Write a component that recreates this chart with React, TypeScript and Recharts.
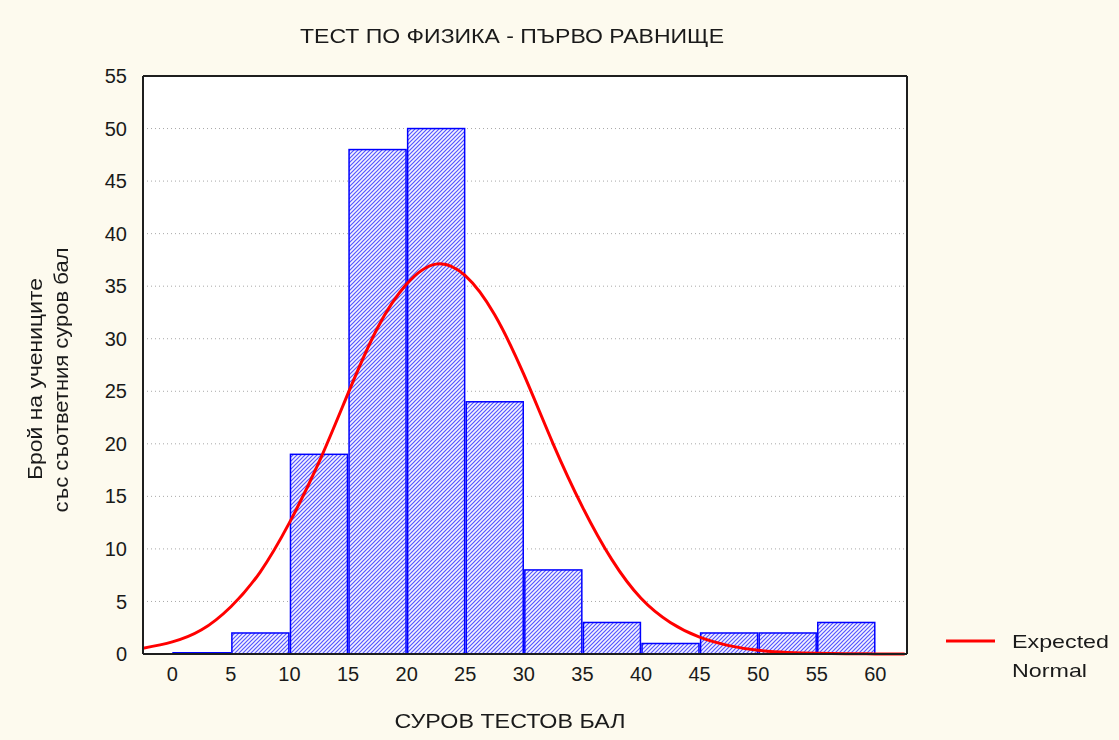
import {
    ComposedChart,
    Bar,
    Line,
    XAxis,
    YAxis,
    CartesianGrid,
    Legend,
} from 'recharts';

// histogram bins (centres of the 5-point score classes) and counts
const scoreBins = [2.5, 7.5, 12.5, 17.5, 22.5, 27.5, 32.5, 37.5, 42.5, 47.5, 52.5, 57.5];
const studentCounts = [0, 2, 19, 48, 50, 24, 8, 3, 1, 2, 2, 3];

// expected normal curve
const normalX = [-2.5, 0, 2.5, 5, 7.5, 10, 12.5, 15, 17.5, 20, 22.5, 25, 27.5, 30, 32.5, 35, 37.5, 40, 42.5, 45, 47.5, 50, 52.5, 55, 57.5, 60, 62.5];
const normalY = [0.55, 1.15, 2.3, 4.5, 7.8, 12.5, 18.2, 24.8, 31.0, 35.2, 37.1, 36.0, 32.3, 26.6, 20.0, 14.0, 9.0, 5.3, 3.0, 1.6, 0.8, 0.35, 0.15, 0.06, 0.02, 0.01, 0];

const xTicks = [0, 5, 10, 15, 20, 25, 30, 35, 40, 45, 50, 55, 60];
const yTicks = [0, 5, 10, 15, 20, 25, 30, 35, 40, 45, 50, 55];

const TITLE = 'ТЕСТ ПО ФИЗИКА - ПЪРВО РАВНИЩЕ';
const X_LABEL = 'СУРОВ ТЕСТОВ БАЛ';
const Y_LABEL_1 = 'Брой на учениците';
const Y_LABEL_2 = 'със съответния суров бал';

const FONT = '"Liberation Sans", Arial, sans-serif';
const TEXT = '#1a1a1a';
const BG = '#fdfaee';
const FRAME = '#1e1e1e';
const BAR_BLUE = '#0000ff';
const X_DOMAIN: [number, number] = [-2.5, 62.7];

const histData = scoreBins.map((score, i) => ({ score, count: studentCounts[i] }));
const curveData = normalX.map((score, i) => ({ score, expected: normalY[i] }));

function HatchBar(props: any) {
    const { x, y, width, height } = props;
    if (!height) {
        // empty class is drawn as a flat blue line on the axis
        return <rect x={x} y={y - 2} width={width} height={2} fill={BAR_BLUE} />;
    }
    return (
        <rect
            x={x + 1}
            y={y}
            width={width - 2}
            height={height}
            fill="url(#hatch)"
            stroke={BAR_BLUE}
            strokeWidth={1.5}
        />
    );
}

function LegendContent() {
    return (
        <svg width={180} height={60} style={{ overflow: 'visible' }}>
            <line x1={6} x2={55} y1={15} y2={15} stroke="#ff0000" strokeWidth={3} />
            <text x={72} y={22} fontSize={19} fontFamily={FONT} fill={TEXT} textLength={97} lengthAdjust="spacingAndGlyphs">
                Expected
            </text>
            <text x={72} y={51} fontSize={19} fontFamily={FONT} fill={TEXT} textLength={75} lengthAdjust="spacingAndGlyphs">
                Normal
            </text>
        </svg>
    );
}

export default function App() {
    return (
        <div style={{ position: 'fixed', left: 0, top: 0, width: 1119, height: 740, background: BG }}>
            <div style={{ position: 'absolute', left: 0, top: 0 }}>
                <ComposedChart
                    width={1119}
                    height={740}
                    data={histData}
                    margin={{ top: 76, right: 212, bottom: 85, left: 142 }}
                    barCategoryGap={0}
                    barGap={0}
                >
                    <defs>
                        <pattern id="hatch" patternUnits="userSpaceOnUse" width={4} height={4}>
                            <rect width={4} height={4} fill="#f4f4ff" />
                            <path
                                d="M-1,1 l2,-2 M0,4 l4,-4 M3,5 l2,-2"
                                stroke="#5555ff"
                                strokeWidth={1.2}
                            />
                        </pattern>
                    </defs>
                    <CartesianGrid
                        vertical={false}
                        stroke="#a8a8a8"
                        strokeDasharray="1 3"
                        fill="#ffffff"
                    />
                    <XAxis
                        dataKey="score"
                        type="number"
                        domain={X_DOMAIN}
                        ticks={xTicks}
                        allowDataOverflow
                        height={1}
                        tickLine={false}
                        tickSize={0}
                        tickMargin={13}
                        axisLine={{ stroke: FRAME, strokeWidth: 2 }}
                        tick={{ fill: TEXT, fontSize: 20, fontFamily: FONT }}
                    />
                    <XAxis
                        xAxisId="top"
                        dataKey="score"
                        type="number"
                        orientation="top"
                        mirror
                        domain={X_DOMAIN}
                        ticks={xTicks}
                        allowDataOverflow
                        height={1}
                        tick={false}
                        tickSize={5}
                        tickLine={{ stroke: FRAME, strokeWidth: 2 }}
                        axisLine={{ stroke: FRAME, strokeWidth: 2 }}
                    />
                    <XAxis
                        xAxisId="bottomIn"
                        dataKey="score"
                        type="number"
                        orientation="bottom"
                        mirror
                        domain={X_DOMAIN}
                        ticks={xTicks}
                        allowDataOverflow
                        height={1}
                        tick={false}
                        tickSize={5}
                        tickLine={{ stroke: FRAME, strokeWidth: 2 }}
                        axisLine={false}
                    />
                    <YAxis
                        type="number"
                        domain={[0, 55]}
                        ticks={yTicks}
                        width={1}
                        tickLine={false}
                        tickSize={0}
                        tickMargin={16}
                        axisLine={{ stroke: FRAME, strokeWidth: 2 }}
                        tick={{ fill: TEXT, fontSize: 20, fontFamily: FONT }}
                    />
                    <YAxis
                        yAxisId="leftIn"
                        type="number"
                        mirror
                        domain={[0, 55]}
                        ticks={yTicks}
                        width={1}
                        tick={false}
                        tickSize={5}
                        tickLine={{ stroke: FRAME, strokeWidth: 2 }}
                        axisLine={false}
                    />
                    <YAxis
                        yAxisId="right"
                        type="number"
                        orientation="right"
                        mirror
                        domain={[0, 55]}
                        ticks={yTicks}
                        width={1}
                        tick={false}
                        tickSize={5}
                        tickLine={{ stroke: FRAME, strokeWidth: 2 }}
                        axisLine={{ stroke: FRAME, strokeWidth: 2 }}
                    />
                    <Legend
                        layout="vertical"
                        align="center"
                        verticalAlign="middle"
                        content={<LegendContent />}
                        wrapperStyle={{ position: 'absolute', left: 940, top: 626, width: 180 }}
                    />
                    <Bar dataKey="count" shape={<HatchBar />} isAnimationActive={false} />
                    <Line
                        xAxisId="top"
                        data={curveData}
                        dataKey="expected"
                        type="natural"
                        stroke="#ff0000"
                        strokeWidth={3}
                        dot={false}
                        activeDot={false}
                        isAnimationActive={false}
                    />
                </ComposedChart>
            </div>
            <svg
                width={1119}
                height={740}
                style={{ position: 'absolute', left: 0, top: 0, pointerEvents: 'none' }}
            >
                <text x={512} y={43} textAnchor="middle" fontSize={20} fontFamily={FONT} fill={TEXT}
                    textLength={424} lengthAdjust="spacingAndGlyphs">
                    {TITLE}
                </text>
                <text x={510} y={728} textAnchor="middle" fontSize={20} fontFamily={FONT} fill={TEXT}
                    textLength={231} lengthAdjust="spacingAndGlyphs">
                    {X_LABEL}
                </text>
                <text
                    transform="translate(42, 379) rotate(-90)"
                    textAnchor="middle"
                    fontSize={20}
                    fontFamily={FONT}
                    fill={TEXT}
                    textLength={202}
                    lengthAdjust="spacingAndGlyphs"
                >
                    {Y_LABEL_1}
                </text>
                <text
                    transform="translate(68, 380) rotate(-90)"
                    textAnchor="middle"
                    fontSize={20}
                    fontFamily={FONT}
                    fill={TEXT}
                    textLength={265}
                    lengthAdjust="spacingAndGlyphs"
                >
                    {Y_LABEL_2}
                </text>
            </svg>
        </div>
    );
}
